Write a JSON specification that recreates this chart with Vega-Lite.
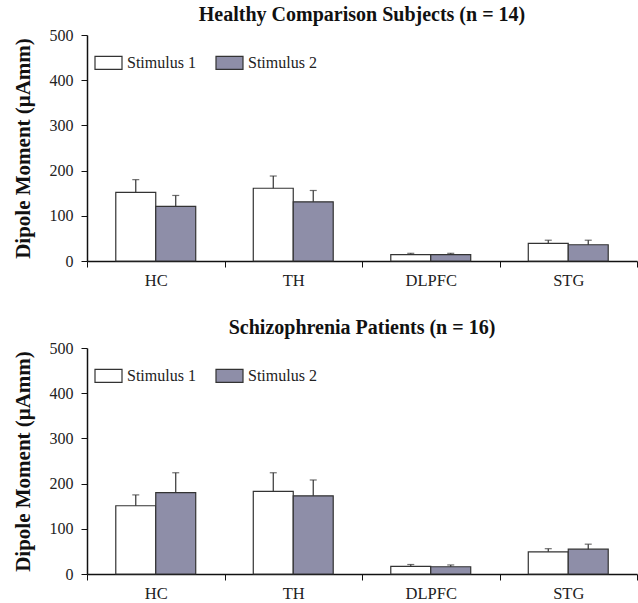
{
  "$schema": "https://vega.github.io/schema/vega-lite/v6.json",
  "padding": {"left": 12, "top": 5, "right": 0, "bottom": 0},
  "background": "white",
  "config": {
    "font": "Liberation Serif",
    "view": {"stroke": null},
    "axis": {"labelFont": "Liberation Serif", "labelFontSize": 16.5, "labelColor": "#222", "domainColor": "#111", "tickColor": "#111", "tickSize": 6, "grid": false, "titleFont": "Liberation Serif", "titleColor": "#111"},
    "title": {"font": "Liberation Serif", "fontSize": 20, "fontWeight": "bold", "color": "#111", "anchor": "middle"},
    "concat": {"spacing": 29}
  },
  "datasets": {
    "d": [
      {"panel": "H", "region": "HC", "stimulus": "Stimulus 1", "value": 152, "upper": 180},
      {"panel": "H", "region": "HC", "stimulus": "Stimulus 2", "value": 121, "upper": 145},
      {"panel": "H", "region": "TH", "stimulus": "Stimulus 1", "value": 161, "upper": 188},
      {"panel": "H", "region": "TH", "stimulus": "Stimulus 2", "value": 131, "upper": 156},
      {"panel": "H", "region": "DLPFC", "stimulus": "Stimulus 1", "value": 14, "upper": 17},
      {"panel": "H", "region": "DLPFC", "stimulus": "Stimulus 2", "value": 14, "upper": 17},
      {"panel": "H", "region": "STG", "stimulus": "Stimulus 1", "value": 39, "upper": 46},
      {"panel": "H", "region": "STG", "stimulus": "Stimulus 2", "value": 36, "upper": 46},
      {"panel": "S", "region": "HC", "stimulus": "Stimulus 1", "value": 151, "upper": 175},
      {"panel": "S", "region": "HC", "stimulus": "Stimulus 2", "value": 180, "upper": 224},
      {"panel": "S", "region": "TH", "stimulus": "Stimulus 1", "value": 183, "upper": 224},
      {"panel": "S", "region": "TH", "stimulus": "Stimulus 2", "value": 173, "upper": 208},
      {"panel": "S", "region": "DLPFC", "stimulus": "Stimulus 1", "value": 17, "upper": 21},
      {"panel": "S", "region": "DLPFC", "stimulus": "Stimulus 2", "value": 16, "upper": 20},
      {"panel": "S", "region": "STG", "stimulus": "Stimulus 1", "value": 49, "upper": 56},
      {"panel": "S", "region": "STG", "stimulus": "Stimulus 2", "value": 55, "upper": 66}
    ]
  },
  "resolve": {"scale": {"color": "independent"}, "legend": {"color": "independent"}},
  "vconcat": [
    {
      "title": {"text": "Healthy Comparison Subjects (n = 14)", "offset": 2},
      "width": 550,
      "height": 226,
      "data": {"name": "d"},
      "transform": [{"filter": "datum.panel == 'H'"}],
      "encoding": {
        "x": {"field": "region", "type": "nominal", "sort": ["HC", "TH", "DLPFC", "STG"], "scale": {"paddingInner": 0, "paddingOuter": 0}, "axis": {"title": null, "labelAngle": 0, "tickBand": "extent", "labelPadding": 5, "domainWidth": 1.5}},
        "xOffset": {"field": "stimulus", "type": "nominal", "sort": ["Stimulus 1", "Stimulus 2"], "scale": {"paddingOuter": 0.72, "paddingInner": 0}}
      },
      "layer": [
        {
          "mark": {"type": "bar", "stroke": "#333", "strokeWidth": 1.2},
          "encoding": {
            "y": {"field": "value", "type": "quantitative", "scale": {"domain": [0, 500]}, "axis": {"values": [0, 100, 200, 300, 400, 500], "labelFontSize": 16, "title": "Dipole Moment (μAmm)", "titleFontSize": 21, "titleFontWeight": "bold", "titlePadding": 16, "labelPadding": 8, "domainWidth": 1.5}},
            "color": {"field": "stimulus", "type": "nominal", "scale": {"domain": ["Stimulus 1", "Stimulus 2"], "range": ["#ffffff", "#8e8ea8"]}, "legend": {"orient": "none", "legendX": 7, "legendY": 13, "direction": "horizontal", "title": null, "symbolType": "M-1,-0.48H1V0.48H-1Z", "symbolSize": 729, "symbolStrokeColor": "#333", "symbolStrokeWidth": 1.2, "symbolOpacity": 1, "labelFont": "Liberation Serif", "labelFontSize": 16, "labelColor": "#222", "labelOffset": 4, "columnPadding": 17}}
          }
        },
        {
          "mark": {"type": "rule", "color": "#333", "strokeWidth": 1.2},
          "encoding": {"y": {"field": "value", "type": "quantitative", "axis": {"title": "Dipole Moment (μAmm)"}}, "y2": {"field": "upper"}}
        },
        {
          "mark": {"type": "tick", "color": "#333", "thickness": 1.2, "size": 7, "orient": "horizontal"},
          "encoding": {"y": {"field": "upper", "type": "quantitative", "axis": {"title": "Dipole Moment (μAmm)"}}}
        }
      ]
    },
    {
      "title": {"text": "Schizophrenia Patients (n = 16)", "offset": 2},
      "width": 550,
      "height": 226,
      "data": {"name": "d"},
      "transform": [{"filter": "datum.panel == 'S'"}],
      "encoding": {
        "x": {"field": "region", "type": "nominal", "sort": ["HC", "TH", "DLPFC", "STG"], "scale": {"paddingInner": 0, "paddingOuter": 0}, "axis": {"title": null, "labelAngle": 0, "tickBand": "extent", "labelPadding": 5, "domainWidth": 1.5}},
        "xOffset": {"field": "stimulus", "type": "nominal", "sort": ["Stimulus 1", "Stimulus 2"], "scale": {"paddingOuter": 0.72, "paddingInner": 0}}
      },
      "layer": [
        {
          "mark": {"type": "bar", "stroke": "#333", "strokeWidth": 1.2},
          "encoding": {
            "y": {"field": "value", "type": "quantitative", "scale": {"domain": [0, 500]}, "axis": {"values": [0, 100, 200, 300, 400, 500], "labelFontSize": 16, "title": "Dipole Moment (μAmm)", "titleFontSize": 21, "titleFontWeight": "bold", "titlePadding": 16, "labelPadding": 8, "domainWidth": 1.5}},
            "color": {"field": "stimulus", "type": "nominal", "scale": {"domain": ["Stimulus 1", "Stimulus 2"], "range": ["#ffffff", "#8e8ea8"]}, "legend": {"orient": "none", "legendX": 7, "legendY": 13, "direction": "horizontal", "title": null, "symbolType": "M-1,-0.48H1V0.48H-1Z", "symbolSize": 729, "symbolStrokeColor": "#333", "symbolStrokeWidth": 1.2, "symbolOpacity": 1, "labelFont": "Liberation Serif", "labelFontSize": 16, "labelColor": "#222", "labelOffset": 4, "columnPadding": 17}}
          }
        },
        {
          "mark": {"type": "rule", "color": "#333", "strokeWidth": 1.2},
          "encoding": {"y": {"field": "value", "type": "quantitative", "axis": {"title": "Dipole Moment (μAmm)"}}, "y2": {"field": "upper"}}
        },
        {
          "mark": {"type": "tick", "color": "#333", "thickness": 1.2, "size": 7, "orient": "horizontal"},
          "encoding": {"y": {"field": "upper", "type": "quantitative", "axis": {"title": "Dipole Moment (μAmm)"}}}
        }
      ]
    }
  ]
}
